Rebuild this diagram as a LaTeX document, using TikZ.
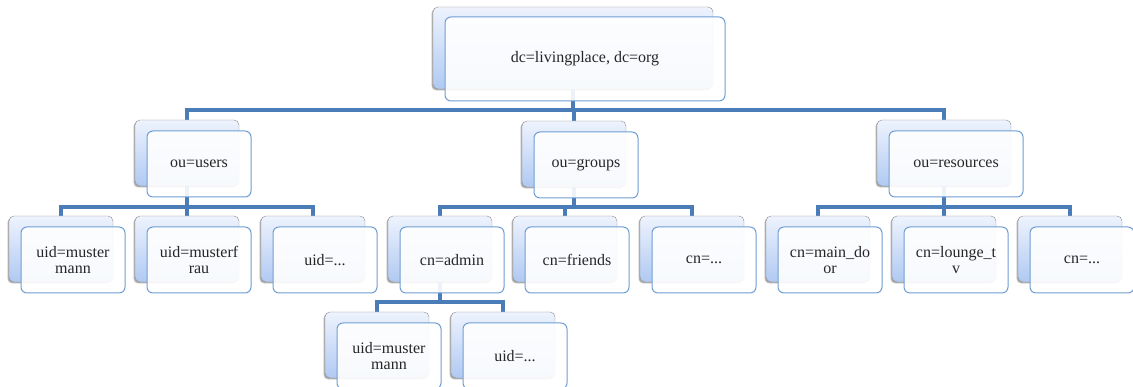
\documentclass[tikz,border=0pt]{standalone}
\usepackage{fontspec}
\setmainfont{Liberation Serif}
\usetikzlibrary{shadows,backgrounds}
\definecolor{backtop}{HTML}{EEF3FD}
\definecolor{backbot}{HTML}{B0C9F2}
\definecolor{backline}{HTML}{8A8A8A}
\definecolor{frontline}{HTML}{6F9ED4}
\definecolor{linkblue}{HTML}{4A7CB8}
\begin{document}
\begin{tikzpicture}[x=1pt,y=-1pt,
	backbox/.style={draw=backline,rounded corners=5pt,top color=backtop,bottom color=backbot,minimum width=104pt,minimum height=66pt,inner sep=0pt,drop shadow={shadow xshift=-1.5pt,shadow yshift=-1.5pt,opacity=0.5,fill=black!60}},
	frontbox/.style={draw=frontline,line width=1pt,rounded corners=6pt,fill=white,fill opacity=0.9,text opacity=1,minimum width=104pt,minimum height=66pt,inner sep=0pt,align=center,text=black!85,font=\fontsize{16}{16}\selectfont},
	link/.style={draw=linkblue,line width=3.2pt}]
			\useasboundingbox (0,0) rectangle (1133,387);
			\node[backbox,minimum width=280pt,minimum height=82pt] (rootb) at (573,48) {};
			\node[frontbox,minimum width=280pt,minimum height=84pt] (root) at (585,59) {dc=livingplace, dc=org};
			\node[backbox] (usersb) at (187,153) {};
			\node[frontbox] (users) at (199,164) {ou=users};
			\node[backbox] (groupsb) at (574,154) {};
			\node[frontbox] (groups) at (586,165) {ou=groups};
			\node[backbox,minimum width=134pt] (resb) at (944,153) {};
			\node[frontbox,minimum width=134pt] (res) at (956,164) {ou=resources};
			\node[backbox] (u1b) at (61,249) {};
			\node[frontbox] (u1) at (73,260) {uid=muster\\mann};
			\node[backbox] (u2b) at (187,249) {};
			\node[frontbox] (u2) at (199,260) {uid=musterf\\rau};
			\node[backbox] (u3b) at (313,249) {};
			\node[frontbox] (u3) at (325,260) {uid=...};
			\node[backbox] (g1b) at (440,249) {};
			\node[frontbox] (g1) at (452,260) {cn=admin};
			\node[backbox] (g2b) at (565,249) {};
			\node[frontbox] (g2) at (577,260) {cn=friends};
			\node[backbox] (g3b) at (692,249) {};
			\node[frontbox] (g3) at (704,260) {cn=...};
			\node[backbox] (r1b) at (818,249) {};
			\node[frontbox] (r1) at (830,260) {cn=main\_do\\or};
			\node[backbox] (r2b) at (944,249) {};
			\node[frontbox] (r2) at (956,260) {cn=lounge\_t\\v};
			\node[backbox] (r3b) at (1070,249) {};
			\node[frontbox] (r3) at (1082,260) {cn=...};
			\node[backbox] (a1b) at (377,345) {};
			\node[frontbox] (a1) at (389,356) {uid=muster\\mann};
			\node[backbox] (a2b) at (503,345) {};
			\node[frontbox] (a2) at (515,356) {uid=...};
			\coordinate (rootbar) at (573,110);
			\coordinate (usersbar) at (187,207);
			\coordinate (groupsbar) at (574,207);
			\coordinate (resbar) at (944,207);
			\coordinate (adminbar) at (440,302);
			\begin{scope}[on background layer]
				\draw[link] (rootb.center) -- (rootbar);
				\draw[link] (usersb.north) |- (rootbar) -| (resb.north);
				\draw[link] (groupsb.north) -- (groupsb.north |- rootbar);
				\draw[link] (usersb.center) -- (usersbar);
				\draw[link] (u1b.north) |- (usersbar) -| (u3b.north);
				\draw[link] (u2b.north) -- (u2b.north |- usersbar);
				\draw[link] (groupsb.center) -- (groupsbar);
				\draw[link] (g1b.north) |- (groupsbar) -| (g3b.north);
				\draw[link] (g2b.north) -- (g2b.north |- groupsbar);
				\draw[link] (resb.center) -- (resbar);
				\draw[link] (r1b.north) |- (resbar) -| (r3b.north);
				\draw[link] (r2b.north) -- (r2b.north |- resbar);
				\draw[link] (g1b.center) -- (adminbar);
				\draw[link] (a1b.north) |- (adminbar) -| (a2b.north);
			\end{scope}
		\end{tikzpicture}
\end{document}
